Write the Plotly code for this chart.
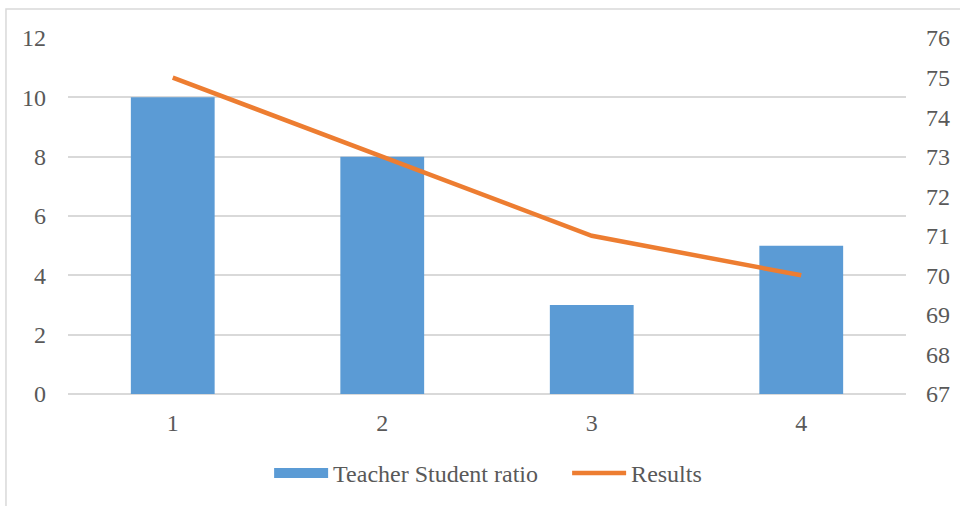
import plotly.graph_objects as go

# Chart data
categories = [1, 2, 3, 4]
ratio_values = [10, 8, 3, 5]
result_values = [75, 73, 71, 70]
left_ticks = [0, 2, 4, 6, 8, 10, 12]
right_ticks = [67, 68, 69, 70, 71, 72, 73, 74, 75, 76]

TEXT = "#595959"
GRID = "#D9D9D9"
BLUE = "#5B9BD5"
ORANGE = "#ED7D31"
FONT = "Liberation Serif, Times New Roman, serif"

fig = go.Figure()
fig.add_trace(go.Bar(
    x=categories, y=ratio_values, name="Teacher Student ratio",
    marker=dict(color=BLUE, line=dict(width=0)),
    yaxis="y", showlegend=False,
))
fig.add_trace(go.Scatter(
    x=categories, y=result_values, name="Results", mode="lines",
    line=dict(color=ORANGE, width=4.5),
    yaxis="y2", showlegend=False,
))
# legend entries: wide blue block for the bars, thick orange stroke for the line
fig.add_trace(go.Scatter(
    x=[None], y=[None], name="Teacher Student ratio", mode="lines",
    line=dict(color=BLUE, width=10), hoverinfo="skip",
))
fig.add_trace(go.Scatter(
    x=[None], y=[None], name="Results", mode="lines",
    line=dict(color=ORANGE, width=4.5), hoverinfo="skip", yaxis="y2",
))

fig.update_layout(
    width=960, height=506,
    margin=dict(l=68, r=54, t=38, b=112, autoexpand=False),
    paper_bgcolor="white", plot_bgcolor="white",
    font=dict(family=FONT, size=24, color=TEXT),
    bargap=0.6,
    showlegend=True,
    legend=dict(
        orientation="h", x=0.24, xanchor="left", y=-0.223, yanchor="middle",
        font=dict(family=FONT, size=24, color=TEXT),
        itemwidth=54, tracegroupgap=0,
        entrywidth=229, entrywidthmode="pixels",
    ),
    xaxis=dict(
        range=[0.5, 4.5], tickvals=categories, ticktext=[str(c) for c in categories],
        showgrid=False, zeroline=False, showline=False, ticks="",
        ticklabelstandoff=12, automargin=False,
    ),
    yaxis=dict(
        range=[0, 12], tickvals=left_ticks, showgrid=True, gridcolor=GRID, gridwidth=1.5,
        zeroline=True, zerolinecolor=GRID, zerolinewidth=1.5,
        showline=False, ticks="", ticklabelstandoff=21, automargin=False,
    ),
    yaxis2=dict(
        range=[67, 76], tickvals=right_ticks, overlaying="y", side="right",
        showgrid=False, zeroline=False, showline=False, ticks="",
        ticklabelstandoff=19, automargin=False,
    ),
    shapes=[dict(
        type="rect", xref="paper", yref="paper",
        x0=-0.074, x1=1.3, y0=-0.6, y1=1.0815,
        line=dict(color=GRID, width=1.5), fillcolor="rgba(0,0,0,0)", layer="below",
    )],
)

fig.write_html("out.html")
